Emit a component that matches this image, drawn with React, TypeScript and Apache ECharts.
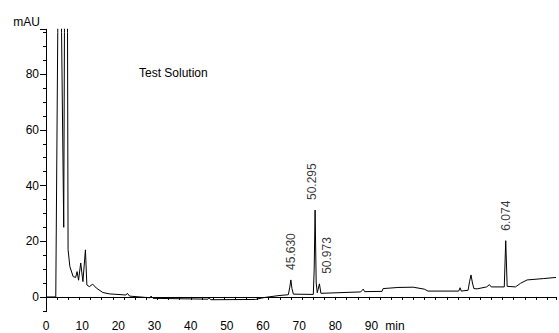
import React, { useEffect, useRef } from "react";
import * as echarts from "echarts";

// Chromatogram trace (x in axis units, y in mAU)
const times = [
  0, 2.7, 3.25, 3.45, 4.1, 4.3, 4.9, 5.1, 5.3, 5.8, 5.95, 6.1, 6.6, 7.5, 8.2, 8.6, 9.0, 9.6, 10.2,
  10.9, 11.3, 12.0, 12.9, 13.9, 15.7, 17.5, 22.1, 22.5, 23.1, 28.7, 29.05, 29.6, 44.8, 45.1, 45.6,
  57.9, 60.4, 64.4, 67.0, 67.4, 67.7, 68.0, 68.4, 73.9, 74.15, 74.4, 74.7, 75.0, 75.6, 76.0, 87.0, 87.7,
  88.1, 92.9, 93.2, 97.3, 101.5, 104.6, 105.6, 114.1, 114.5, 114.8, 116.7, 117.1, 117.5, 117.9, 118.3,
  119.2, 121.8, 122.6, 123.1, 126.7, 127.1, 127.5, 129.8, 131.2, 133.0, 137.6, 141,
];
const absorbance = [
  0, 0, 95, 300, 300, 95, 25, 95, 300, 300, 95, 17, 10.9, 7.3, 7.0, 9.1, 6.0, 12.2, 5.5,
  16.9, 4.3, 3.7, 4.6, 3.2, 1.6, 1.1, 0.7, 1.3, 0.3, -0.3, 0.3, -0.5, -0.8, -0.4, -1.0,
  -0.9, -0.2, 0.5, 0.8, 3.5, 6.1, 3.0, 1.0, 0.9, 10, 31.2, 5, 1.5, 4.7, 1.3, 1.8, 2.8,
  1.9, 2.0, 3.0, 3.4, 3.5, 2.8, 2.1, 2.1, 3.3, 2.1, 2.4, 5.5, 7.9, 5.0, 3.0,
  2.9, 3.6, 4.4, 3.6, 3.6, 20.2, 3.8, 3.6, 4.9, 6.1, 6.6, 7.0,
];

// Annotated peaks
const peakTimes = [67.7, 74.4, 75.6, 127.1];
const peakHeights = [6.1, 31.2, 4.7, 20.2];
const peakLabels = ["45.630", "50.295", "50.973", "6.074"];
const peakLabelShift = [0, -3, 8, 0];

// Axis ticks / labels
const xLabelValues = [0, 10, 20, 30, 40, 50, 60, 70, 80, 90];
const yLabelValues = [0, 20, 40, 60, 80];
const yMajorTicks = [0, 20, 40, 60, 80, 96.1];
const yMinorTicks = [-5, 5, 10, 15, 25, 30, 35, 45, 50, 55, 65, 70, 75, 85, 90, 95];

const FONT = "Liberation Sans, Arial, sans-serif";

export default function App() {
  const ref = useRef<HTMLDivElement>(null);
  useEffect(() => {
    if (!ref.current) return;
    const chart = echarts.init(ref.current, null, { renderer: "svg" });
    const traceData = times.map((t, i) => [t, absorbance[i]]);
    const peakData = peakTimes.map((t, i) => ({
      value: [t, peakHeights[i]],
      name: peakLabels[i],
      // label is rotated 90°, so its local y axis points right on screen
      label: { offset: [0, peakLabelShift[i]] },
    }));
    chart.setOption({
      animation: false,
      grid: { left: 46, right: 0, top: 29.3, bottom: 21.3 },
      xAxis: [
        {
          type: "value",
          min: 0,
          max: 141,
          interval: 10,
          position: "bottom",
          axisLine: { show: true, lineStyle: { color: "#000", width: 1 } },
          axisTick: { show: false },
          splitLine: { show: false },
          axisLabel: {
            color: "#000",
            fontSize: 12,
            fontFamily: FONT,
            margin: 8,
            formatter: (v: number) => (xLabelValues.includes(v) ? String(v) : ""),
          },
        },
        {
          type: "value",
          min: 0,
          max: 45.8,
          interval: 1,
          position: "bottom",
          axisLine: { show: false },
          axisTick: { show: true, length: 3, lineStyle: { color: "#000" } },
          axisLabel: { show: false },
          splitLine: { show: false },
        },
      ],
      yAxis: [
        {
          type: "value",
          min: -5.3,
          max: 96.1,
          position: "left",
          axisLine: { show: true, lineStyle: { color: "#000", width: 1 } },
          axisTick: { show: true, length: 6, customValues: yMajorTicks, lineStyle: { color: "#000" } },
          axisLabel: {
            customValues: yLabelValues,
            color: "#000",
            fontSize: 12,
            fontFamily: FONT,
            margin: 7,
          },
          splitLine: { show: false },
        },
        {
          type: "value",
          min: -5.3,
          max: 96.1,
          position: "left",
          axisLine: { show: false },
          axisTick: { show: true, length: 3, customValues: yMinorTicks, lineStyle: { color: "#000" } },
          axisLabel: { show: false },
          splitLine: { show: false },
        },
      ],
      graphic: [
        {
          type: "text",
          x: 40,
          y: 22,
          style: {
            text: "mAU",
            fill: "#000",
            font: `12px ${FONT}`,
            align: "right",
            verticalAlign: "middle",
          },
        },
        {
          type: "text",
          x: 395,
          y: 326,
          style: {
            text: "min",
            fill: "#000",
            font: `12px ${FONT}`,
            align: "center",
            verticalAlign: "middle",
          },
        },
        {
          type: "text",
          x: 139,
          y: 73,
          style: {
            text: "Test Solution",
            fill: "#000",
            font: `12px ${FONT}`,
            align: "left",
            verticalAlign: "middle",
          },
        },
      ],
      series: [
        {
          type: "line",
          xAxisIndex: 0,
          yAxisIndex: 0,
          data: traceData,
          showSymbol: false,
          symbol: "none",
          clip: true,
          lineStyle: { color: "#000", width: 1 },
          silent: true,
        },
        {
          type: "scatter",
          xAxisIndex: 0,
          yAxisIndex: 0,
          data: peakData,
          symbolSize: 0,
          silent: true,
          label: {
            show: true,
            position: "top",
            distance: 10,
            rotate: 90,
            align: "left",
            verticalAlign: "middle",
            formatter: (p: any) => p.name,
            color: "#000",
            fontSize: 12,
            fontFamily: FONT,
          },
        },
      ],
    });
    return () => chart.dispose();
  }, []);
  return (
    <div
      ref={ref}
      style={{ position: "fixed", left: 0, top: 0, width: 559, height: 333, background: "#fff" }}
    />
  );
}
